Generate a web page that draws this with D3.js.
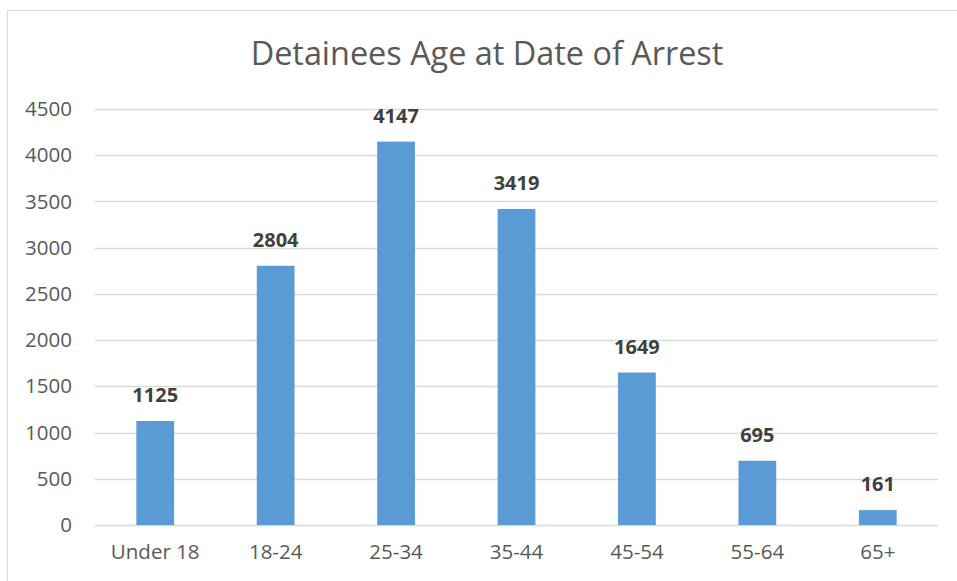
<!DOCTYPE html>
<html>
<head>
<meta charset="utf-8">
<script src="https://cdn.jsdelivr.net/npm/d3@7"></script>
<style>
  body { margin: 0; background: #fff; }
  text { font-family: "Open Sans", sans-serif; }
</style>
</head>
<body>
<div id="chart"></div>
<script>
// Chart data
const categories = ['Under 18', '18-24', '25-34', '35-44', '45-54', '55-64', '65+'];
const counts = [1125, 2804, 4147, 3419, 1649, 695, 161];
const yTicks = [0, 500, 1000, 1500, 2000, 2500, 3000, 3500, 4000, 4500];
const title = 'Detainees Age at Date of Arrest';

const W = 957, H = 581;
const margin = { top: 109, right: 19, bottom: 56, left: 95 };
const width = W - margin.left - margin.right;
const height = H - margin.top - margin.bottom;

const svg = d3.select('#chart')
  .append('svg')
  .attr('width', W)
  .attr('height', H);

// Outer chart border (left and top visible)
svg.append('path')
  .attr('d', `M7.5,${H} V10.5 H${W}`)
  .attr('fill', 'none')
  .attr('stroke', '#d9d9d9')
  .attr('stroke-width', 1);

// Title
svg.append('text')
  .attr('x', 487)
  .attr('y', 65)
  .attr('text-anchor', 'middle')
  .attr('fill', '#595959')
  .style('font-size', '32.4px')
  .text(title);

const g = svg.append('g')
  .attr('transform', `translate(${margin.left},${margin.top})`);

// Scales
const x = d3.scaleBand().domain(categories).range([0, width]).padding(0);
const y = d3.scaleLinear().domain([0, 4500]).range([height, 0]);
const barW = x.bandwidth() / 3.19; // Excel gap width ~219%

// Gridlines
g.append('g')
  .selectAll('line')
  .data(yTicks)
  .join('line')
  .attr('x1', 0)
  .attr('x2', width)
  .attr('y1', d => Math.round(y(d)) + 0.5)
  .attr('y2', d => Math.round(y(d)) + 0.5)
  .attr('stroke', '#d9d9d9')
  .attr('stroke-width', 1.3);

// Y axis labels
const yAxis = g.append('g')
  .call(d3.axisLeft(y).tickValues(yTicks).tickFormat(d3.format('d')).tickSize(0).tickPadding(23));
yAxis.select('.domain').remove();
yAxis.selectAll('text')
  .attr('fill', '#595959')
  .style('font-size', '20.5px')
  .style('font-family', '"Open Sans", sans-serif');

// X axis labels
const xAxis = g.append('g')
  .attr('transform', `translate(0,${height})`)
  .call(d3.axisBottom(x).tickSize(0).tickPadding(19));
xAxis.select('.domain').remove();
xAxis.selectAll('text')
  .attr('fill', '#595959')
  .style('font-size', '20.5px')
  .style('font-family', '"Open Sans", sans-serif');

// Bars
g.selectAll('.bar')
  .data(counts)
  .join('rect')
  .attr('class', 'bar')
  .attr('x', (d, i) => x(categories[i]) + (x.bandwidth() - barW) / 2)
  .attr('y', d => y(d))
  .attr('width', barW)
  .attr('height', d => height - y(d))
  .attr('fill', '#5b9bd5');

// Value labels
g.selectAll('.value-label')
  .data(counts)
  .join('text')
  .attr('class', 'value-label')
  .attr('x', (d, i) => x(categories[i]) + x.bandwidth() / 2)
  .attr('y', d => y(d) - 19)
  .attr('text-anchor', 'middle')
  .attr('fill', '#404040')
  .style('font-size', '20px')
  .style('font-weight', 'bold')
  .text(d => d);
</script>
</body>
</html>
